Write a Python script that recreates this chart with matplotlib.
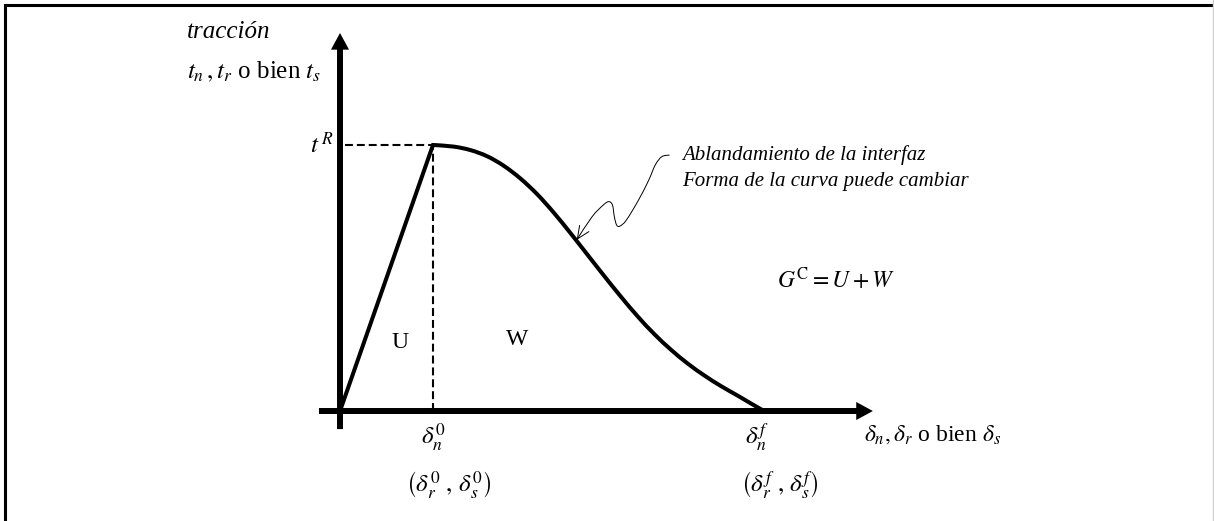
import matplotlib
matplotlib.use('Agg')
import numpy as np
import matplotlib.pyplot as plt
from matplotlib.lines import Line2D
from matplotlib.patches import FancyArrowPatch, PathPatch
from matplotlib.path import Path

plt.rcParams['font.family'] = ['Liberation Serif', 'DejaVu Serif']
plt.rcParams['mathtext.fontset'] = 'stix'
plt.rcParams['font.size'] = 15

# traction-separation law, normalised: delta_n^0 = 1, t^R = 1
delta0 = 1.0
deltaf = 4.56
tR = 1.0
# softening branch from the peak down to delta_f
soft_x = [1.0, 1.22, 1.40, 1.58, 1.76, 1.94, 2.12, 2.30, 2.48, 2.66, 2.84,
          3.02, 3.20, 3.38, 3.56, 3.74, 3.92, 4.10, 4.28, 4.42, 4.56]
soft_y = [1.0, 0.994, 0.981, 0.958, 0.922, 0.874, 0.815, 0.745, 0.668, 0.588, 0.508,
          0.430, 0.356, 0.289, 0.230, 0.178, 0.133, 0.093, 0.057, 0.028, 0.0]

# wavy pointer towards the softening branch
wave_x = [3.54, 3.46, 3.39, 3.32, 3.21, 3.08, 3.01, 2.975, 2.95, 2.93, 2.89, 2.83, 2.71, 2.545]
wave_y = [0.962, 0.956, 0.925, 0.868, 0.793, 0.718, 0.695, 0.699, 0.730, 0.774, 0.787, 0.774, 0.730, 0.643]


def smooth_path(xs, ys, start=None):
    # catmull-rom through the points, written as cubic bezier segments
    p = np.column_stack([xs, ys])
    verts, codes = [], []
    if start is not None:
        verts += [start, p[0]]
        codes += [Path.MOVETO, Path.LINETO]
    else:
        verts.append(p[0])
        codes.append(Path.MOVETO)
    n = len(p)
    for i in range(n - 1):
        p0 = p[max(i - 1, 0)]
        p1 = p[i]
        p2 = p[i + 1]
        p3 = p[min(i + 2, n - 1)]
        verts += [p1 + (p2 - p0) / 6, p2 - (p3 - p1) / 6, p2]
        codes += [Path.CURVE4] * 3
    return Path(verts, codes)


fig = plt.figure(figsize=(12.14, 5.21), dpi=100)
ax = fig.add_axes([0, 0, 1, 1])
ax.set_xlim(-3.656, 9.398)
ax.set_ylim(-0.4135, 1.545)
ax.axis('off')

# axes with arrow heads
ax_style = 'simple,tail_width=4.3,head_width=13,head_length=12'
ax.add_patch(FancyArrowPatch((0, -0.068), (0, 1.421), arrowstyle=ax_style,
                             mutation_scale=1, color='k', lw=0, shrinkA=0, shrinkB=0))
ax.add_patch(FancyArrowPatch((-0.226, 0), (5.73, 0), arrowstyle=ax_style,
                             mutation_scale=1, color='k', lw=0, shrinkA=0, shrinkB=0))

# dashed guides
ax.plot([0.05, delta0], [tR, tR], color='k', lw=1.5, dashes=(3.8, 1.9))
ax.plot([delta0, delta0], [0, tR], color='k', lw=1.5, dashes=(3.8, 1.9))

# the law itself: linear ramp then softening
law = smooth_path(soft_x, soft_y, start=(0.0, 0.0))
ax.add_patch(PathPatch(law, fill=False, edgecolor='k', lw=2.9, joinstyle='miter', capstyle='butt'))

# wavy annotation arrow
wave = smooth_path(wave_x, wave_y)
ax.add_patch(FancyArrowPatch(path=wave, arrowstyle='->,head_length=9,head_width=4',
                             mutation_scale=1, color='k', lw=0.7))

# labels
ax.text(-1.645, 1.425, 'tracción', style='italic', ha='left', va='center', fontsize=18)
ax.text(-1.645, 1.274, r'$t_n\,, t_r$ o bien $t_s$', ha='left', va='center', fontsize=18)
ax.text(-0.075, tR, r'$t^{\,R}$', ha='right', va='center', fontsize=18)
ax.text(delta0, -0.098, r'$\delta_n^{0}$', ha='center', va='center', fontsize=18)
ax.text(1.17, -0.278, r'$\left(\delta_r^{0}\ ,\,\delta_s^{0}\right)$', ha='center', va='center', fontsize=18)
ax.text(4.48, -0.098, r'$\delta_n^{f}$', ha='center', va='center', fontsize=18)
ax.text(4.73, -0.278, r'$\left(\delta_r^{f}\ ,\,\delta_s^{f}\right)$', ha='center', va='center', fontsize=18)
ax.text(5.63, -0.09, r'$\delta_n, \delta_r$ o bien $\delta_s$', ha='left', va='center', fontsize=17)
ax.text(0.645, 0.259, 'U', ha='center', va='center', fontsize=17)
ax.text(1.903, 0.267, 'W', ha='center', va='center', fontsize=17)
ax.text(4.70, 0.492, r'$G^{\mathrm{C}} = U + W$', ha='left', va='center', fontsize=17)
ax.text(3.677, 0.962, 'Ablandamiento de la interfaz', style='italic', ha='left', va='center', fontsize=15)
ax.text(3.677, 0.861, 'Forma de la curva puede cambiar', style='italic', ha='left', va='center', fontsize=15)

# frame around the figure
fig.add_artist(Line2D([5 / 1214, 5 / 1214], [0, 1 - 5 / 521], transform=fig.transFigure,
                      color='k', lw=2.2, solid_capstyle='projecting'))
fig.add_artist(Line2D([5 / 1214, 1], [1 - 5 / 521, 1 - 5 / 521], transform=fig.transFigure,
                      color='k', lw=2.2, solid_capstyle='projecting'))
fig.add_artist(Line2D([1212.5 / 1214, 1212.5 / 1214], [0, 1], transform=fig.transFigure,
                      color='#d0d0d0', lw=1.0))

fig.savefig('out.png', dpi=100)
